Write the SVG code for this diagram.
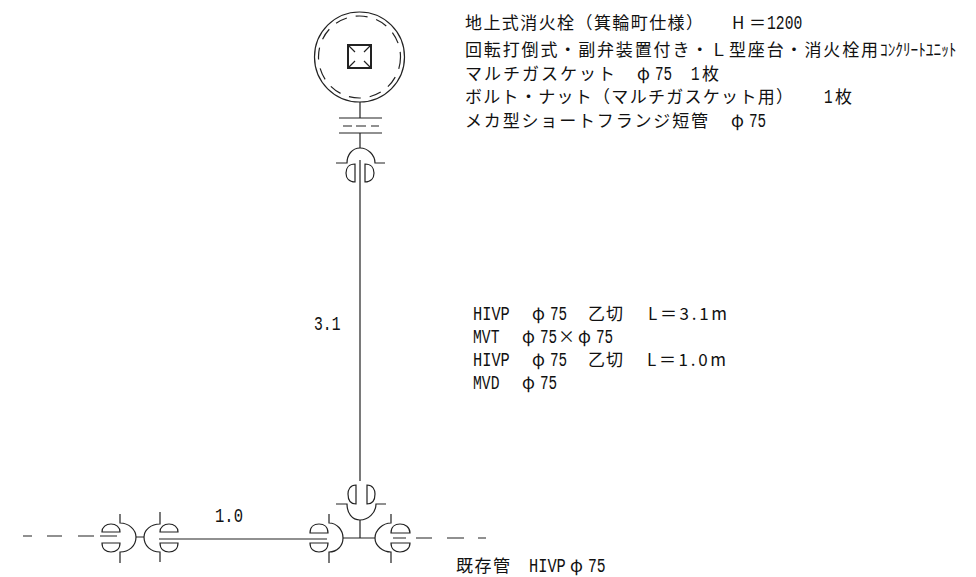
<svg xmlns="http://www.w3.org/2000/svg" width="976" height="577" viewBox="0 0 976 577">
<defs>
<style>
.l{fill:none;stroke:#222;stroke-width:1.2}
text{font-family:"Noto Sans CJK JP","Noto Sans",sans-serif;font-size:17px;fill:#111}
.n{font-family:"Liberation Mono",monospace;font-size:21px}
</style>
</defs>
<rect width="976" height="577" fill="#fff"/>
<g id="connectors">
<path class="l" d="M360 102V118M360 133V148M360 160V481M360 520V538M343 538H375M136 537H144M159 539H327"/>
<path class="l" d="M23 536H32M47 536H62M78 536H94M100 536H117M393 538H406M416 538H432M447 538H464M478 538H486"/>
</g>
<g id="hydrant">
<circle class="l" cx="359.500" cy="57" r="45"/>
<circle class="l" cx="359.500" cy="57" r="41" stroke-dasharray="12 9"/>
<rect x="348" y="45" width="23" height="23" fill="none" stroke="#222" stroke-width="2"/>
<path class="l" d="M349 46L355 52M370 46L364 52M349 67L355 61M370 67L364 61" stroke-width="0.800"/>
</g>
<g id="flange">
<path class="l" d="M339 118H382M339 133H382"/>
<path class="l" d="M343 126H352M356 126H366M371 126H379"/>
</g>
<g id="socket-top">
<path class="l" d="M336 163H347C347 155 352 148 360 148C368 148 375 155 375 163H385"/>
<path class="l" d="M355 164C349 164 346 168 346 173C346 178 349 182 355 182ZM365 164C371 164 374 168 374 173C374 178 371 182 365 182Z"/>
</g>
<g id="socket-tee-top">
<path class="l" d="M336 504H347C347 513 352 520 360 520C368 520 376 513 376 504H386"/>
<path class="l" d="M356 485C350 485 348 490 348 494C348 499 350 504 356 504ZM367 485C373 485 375 490 375 494C375 499 373 504 367 504Z"/>
</g>
<g id="socket-tee-left">
<path class="l" d="M329 514V523C337 523 343 530 343 538C343 546 337 552 329 552V563"/>
<path class="l" d="M310 533C310 527 314 524 319 524C324 524 328 527 328 533ZM310 543C310 549 314 552 319 552C324 552 328 549 328 543Z"/>
</g>
<g id="socket-tee-right">
<path class="l" d="M391 514V523C383 523 375 530 375 538C375 546 383 552 391 552V563"/>
<path class="l" d="M391 533C391 527 395 524 400 524C405 524 410 527 410 533ZM391 543C391 549 395 552 400 552C405 552 410 549 410 543Z"/>
</g>
<g id="socket-left-a">
<path class="l" d="M120 514V523C129 523 136 530 136 537C136 546 129 552 120 552V563"/>
<path class="l" d="M102 532C102 527 106 524 111 524C116 524 120 527 120 532ZM102 543C102 549 106 552 111 552C116 552 120 549 120 543Z"/>
</g>
<g id="socket-left-b">
<path class="l" d="M160 512V524C151 524 144 530 144 537C144 546 151 552 160 552V562"/>
<path class="l" d="M160 532C160 527 164 524 169 524C174 524 178 527 178 532ZM160 543C160 549 164 552 169 552C174 552 178 549 178 543Z"/>
</g>
<g id="labels">
<text x="465" y="29" textLength="238">地上式消火栓（箕輪町仕様）</text>
<text x="732" y="29" textLength="34">H＝</text>
<text class="n" transform="translate(767 29) scale(.7 1)">1200</text>
<text x="465" y="56" textLength="413">回転打倒式・副弁装置付き・Ｌ型座台・消火栓用</text>
<text transform="translate(880 56) scale(.9 1)">ｺﾝｸﾘｰﾄﾕﾆｯﾄ</text>
<text x="465" y="80" textLength="150">マルチガスケット</text>
<text x="637" y="80">φ</text>
<text class="n" transform="translate(655 80) scale(.68 1)">75</text>
<text class="n" transform="translate(691 80) scale(.68 1)">1</text>
<text x="702" y="80">枚</text>
<text x="465" y="103" textLength="328">ボルト・ナット（マルチガスケット用）</text>
<text class="n" transform="translate(824 103) scale(.68 1)">1</text>
<text x="835" y="103">枚</text>
<text x="465" y="127" textLength="243">メカ型ショートフランジ短管</text>
<text x="731" y="127">φ</text>
<text class="n" transform="translate(749 127) scale(.68 1)">75</text>
<text class="n" transform="translate(473 320) scale(.73 1)">HIVP</text>
<text x="532" y="320">φ</text>
<text class="n" transform="translate(550 320) scale(.68 1)">75</text>
<text x="588" y="320" textLength="35">乙切</text>
<text x="648" y="320" textLength="79">L＝3.1m</text>
<text class="n" transform="translate(473 343) scale(.7 1)">MVT</text>
<text x="522" y="343">φ</text>
<text class="n" transform="translate(540 343) scale(.68 1)">75</text>
<text x="558" y="343">×</text>
<text x="578" y="343">φ</text>
<text class="n" transform="translate(596 343) scale(.68 1)">75</text>
<text class="n" transform="translate(473 366) scale(.73 1)">HIVP</text>
<text x="532" y="366">φ</text>
<text class="n" transform="translate(550 366) scale(.68 1)">75</text>
<text x="588" y="366" textLength="35">乙切</text>
<text x="647" y="366" textLength="79">L＝1.0m</text>
<text class="n" transform="translate(473 389) scale(.7 1)">MVD</text>
<text x="522" y="389">φ</text>
<text class="n" transform="translate(540 389) scale(.68 1)">75</text>
<text class="n" transform="translate(314 330) scale(.7 1)">3.1</text>
<text class="n" transform="translate(215 522) scale(.74 1)">1.0</text>
<text x="456" y="572" textLength="54">既存管</text>
<text class="n" transform="translate(529 572) scale(.73 1)">HIVP</text>
<text x="570" y="572">φ</text>
<text class="n" transform="translate(588 572) scale(.7 1)">75</text>
</g>
</svg>
